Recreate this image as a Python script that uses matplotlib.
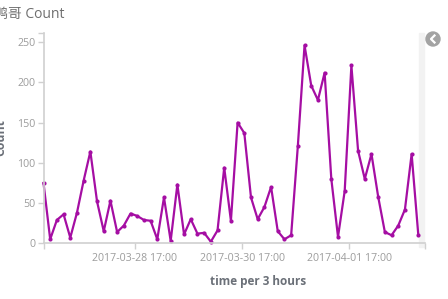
import numpy as np
import pandas as pd
import matplotlib
matplotlib.use('Agg')
import matplotlib.pyplot as plt
import matplotlib.dates as mdates
from matplotlib.patches import Rectangle, Ellipse

# 3-hour buckets, counts
bucket_start = '2017-03-27 00:00'
counts = [75, 5, 29, 36, 7, 38, 78, 114, 52, 15,
          53, 14, 22, 37, 34, 29, 28, 5, 57, 3,
          73, 11, 30, 12, 13, 2, 16, 94, 28, 150,
          137, 57, 30, 45, 70, 15, 5, 10, 121, 246,
          196, 178, 212, 80, 8, 65, 221, 115, 80, 111,
          58, 14, 10, 22, 42, 111, 10]
tick_times = ['2017-03-28 17:00', '2017-03-30 17:00', '2017-04-01 17:00']
y_ticks = [0, 50, 100, 150, 200, 250]

times = pd.date_range(bucket_start, periods=len(counts), freq='3h')

plt.rcParams['font.family'] = ['Open Sans', 'Noto Sans CJK SC', 'DejaVu Sans']

fig = plt.figure(figsize=(4.48, 2.99), dpi=100)
ax = fig.add_axes([0.0971, 0.1863, 0.8516, 0.7023])
ax.patch.set_visible(False)

line_color = '#a50ea3'
ax.plot(times, counts, color=line_color, linewidth=1.6, marker='o',
        markersize=3, markeredgewidth=0, clip_on=False)

x0 = times[0]
x1 = times[0] + pd.Timedelta(hours=3 * 57)
ax.set_xlim(x0, x1)
ax.set_ylim(0, 261)

axis_grey = '#d0d0d0'
for side in ['top', 'right']:
    ax.spines[side].set_visible(False)
for side in ['left', 'bottom']:
    ax.spines[side].set_color(axis_grey)
    ax.spines[side].set_linewidth(1.2)

ax.set_xticks(pd.to_datetime(tick_times))
ax.xaxis.set_major_formatter(mdates.DateFormatter('%Y-%m-%d %H:%M'))
ax.set_xticks([mdates.date2num(x0), mdates.date2num(x1)], minor=True)
ax.set_yticks(y_ticks)
ax.set_yticks([261], minor=True)

ax.tick_params(axis='both', which='both', colors=axis_grey, labelcolor='#9c9c9c',
               labelsize=7.7, length=4, width=1)
ax.tick_params(axis='x', pad=3)
ax.tick_params(axis='y', pad=2)

# title (cut at the left edge like the original)
fig.text(-0.013, 0.953, '鸭哥 Count', fontsize=10, color='#6e6e6e',
         ha='left', va='center')

# axis titles
fig.text(258 / 448, 1 - 282 / 299, 'time per 3 hours', fontsize=8.5,
         fontweight='bold', color='#6b7078', ha='center', va='center')
fig.text(1 / 448, 1 - 138 / 299, 'Count', fontsize=8.8, fontweight='bold',
         color='#6b7078', ha='center', va='center', rotation=90)

# collapsed legend strip and toggle button
fig.patches.append(Rectangle((419 / 448, 1 - 247 / 299), 5 / 448, 214 / 299,
                             transform=fig.transFigure, color='#f2f2f2',
                             zorder=-1))
fig.patches.append(Ellipse((433 / 448, 1 - 39 / 299), 14 / 448, 14 / 299,
                           transform=fig.transFigure, color='#a3a3a3'))
fig.lines.append(plt.Line2D([434.5 / 448, 431 / 448, 434.5 / 448],
                            [1 - 35.5 / 299, 1 - 39 / 299, 1 - 42.5 / 299],
                            transform=fig.transFigure, color='white',
                            linewidth=1.6))

fig.savefig('out.png', dpi=100)
